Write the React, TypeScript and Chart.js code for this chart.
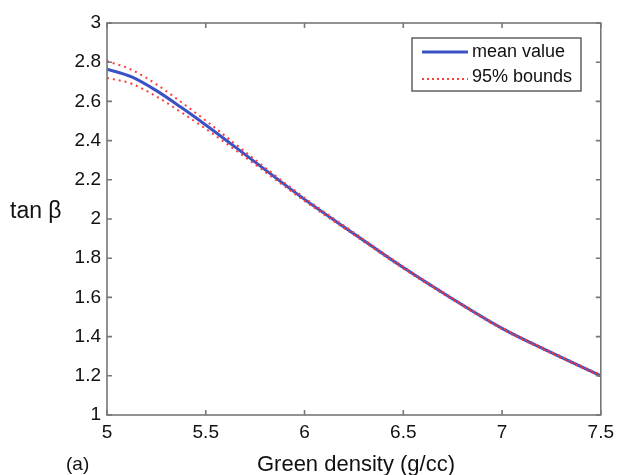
import React, { useEffect, useRef } from "react";
import { Chart, registerables } from "chart.js";

Chart.register(...registerables);

const densityX = [5, 5.125, 5.25, 5.375, 5.5, 5.75, 6, 6.25, 6.5, 6.75, 7, 7.25, 7.5];
const meanValue = [2.765, 2.725, 2.655, 2.57, 2.48, 2.29, 2.1, 1.925, 1.752, 1.592, 1.442, 1.318, 1.2];
const upperBound = [2.806, 2.761, 2.687, 2.597, 2.502, 2.302, 2.108, 1.931, 1.757, 1.596, 1.446, 1.322, 1.204];
const lowerBound = [2.72, 2.69, 2.625, 2.545, 2.46, 2.278, 2.092, 1.919, 1.747, 1.588, 1.438, 1.314, 1.196];
const xTicks = [5, 5.5, 6, 6.5, 7, 7.5];
const yTicks = [1, 1.2, 1.4, 1.6, 1.8, 2, 2.2, 2.4, 2.6, 2.8, 3];

const FONT = "Arial, 'Liberation Sans', Helvetica, sans-serif";
const BLUE = "rgb(58,82,196)";
const RED = "rgb(255,60,60)";
const AXIS = "#777777";

const pts = (ys: number[]) => densityX.map((x, i) => ({ x, y: ys[i] }));

const decorPlugin = {
  id: "decor",
  afterDraw(chart: any) {
    const { ctx, chartArea: a, scales } = chart;
    const xs = scales.x;
    const ys = scales.y;
    ctx.save();
    // frame
    ctx.strokeStyle = AXIS;
    ctx.lineWidth = 1.6;
    ctx.strokeRect(a.left, a.top, a.right - a.left, a.bottom - a.top);
    // inward ticks
    const tl = 5;
    ctx.beginPath();
    xTicks.forEach((v) => {
      const px = xs.getPixelForValue(v);
      ctx.moveTo(px, a.bottom);
      ctx.lineTo(px, a.bottom - tl);
      ctx.moveTo(px, a.top);
      ctx.lineTo(px, a.top + tl);
    });
    yTicks.forEach((v) => {
      const py = ys.getPixelForValue(v);
      ctx.moveTo(a.left, py);
      ctx.lineTo(a.left + tl, py);
      ctx.moveTo(a.right, py);
      ctx.lineTo(a.right - tl, py);
    });
    ctx.stroke();

    // legend
    const lx = 412, ly = 38, lw = 169, lh = 53;
    ctx.fillStyle = "#ffffff";
    ctx.fillRect(lx, ly, lw, lh);
    ctx.strokeStyle = "#555555";
    ctx.lineWidth = 1.4;
    ctx.strokeRect(lx, ly, lw, lh);
    ctx.strokeStyle = BLUE;
    ctx.lineWidth = 3;
    ctx.beginPath();
    ctx.moveTo(422, 52);
    ctx.lineTo(468, 52);
    ctx.stroke();
    ctx.strokeStyle = RED;
    ctx.lineWidth = 2;
    ctx.setLineDash([2, 3]);
    ctx.beginPath();
    ctx.moveTo(422, 79);
    ctx.lineTo(468, 79);
    ctx.stroke();
    ctx.setLineDash([]);
    ctx.fillStyle = "#111111";
    ctx.font = `18px ${FONT}`;
    ctx.textBaseline = "middle";
    ctx.textAlign = "left";
    ctx.fillText("mean value", 472, 52);
    ctx.fillText("95% bounds", 472, 77);

    // axis titles
    ctx.font = `23px ${FONT}`;
    ctx.textAlign = "left";
    ctx.fillText("tan \u03b2", 10, 212);
    ctx.font = `22px ${FONT}`;
    ctx.textAlign = "center";
    ctx.fillText("Green density (g/cc)", 356, 465);
    ctx.font = `19px ${FONT}`;
    ctx.textAlign = "left";
    ctx.fillText("(a)", 66, 465);
    ctx.restore();
  },
};

export default function App() {
  const ref = useRef<HTMLCanvasElement | null>(null);
  useEffect(() => {
    if (!ref.current) return;
    const chart = new Chart(ref.current, {
      type: "line",
      data: {
        datasets: [
          {
            label: "mean value",
            data: pts(meanValue),
            borderColor: BLUE,
            borderWidth: 3,
            pointRadius: 0,
            cubicInterpolationMode: "monotone",
            order: 2,
          },
          {
            label: "95% bounds",
            data: pts(upperBound),
            borderColor: RED,
            borderWidth: 2,
            borderDash: [2, 4],
            pointRadius: 0,
            cubicInterpolationMode: "monotone",
            order: 1,
          },
          {
            label: "95% bounds lower",
            data: pts(lowerBound),
            borderColor: RED,
            borderWidth: 2,
            borderDash: [2, 4],
            pointRadius: 0,
            cubicInterpolationMode: "monotone",
            order: 1,
          },
        ],
      },
      options: {
        animation: false,
        responsive: false,
        maintainAspectRatio: false,
        layout: { padding: { top: 23, right: 15, left: 0, bottom: 0 } },
        plugins: { legend: { display: false }, tooltip: { enabled: false } },
        scales: {
          x: {
            type: "linear",
            min: 5,
            max: 7.5,
            afterBuildTicks: (s: any) => {
              s.ticks = xTicks.map((v) => ({ value: v }));
            },
            afterFit: (s: any) => {
              s.height = 60;
            },
            grid: { display: false, drawTicks: false },
            border: { display: false },
            ticks: {
              color: "#111111",
              font: { size: 19, family: FONT },
              padding: 6,
              maxRotation: 0,
              callback: (v: any) => String(v),
            },
          },
          y: {
            type: "linear",
            min: 1,
            max: 3,
            afterBuildTicks: (s: any) => {
              s.ticks = yTicks.map((v) => ({ value: v }));
            },
            afterFit: (s: any) => {
              s.width = 107;
            },
            grid: { display: false, drawTicks: false },
            border: { display: false },
            ticks: {
              color: "#111111",
              font: { size: 19, family: FONT },
              padding: 6,
              callback: (v: any) => String(Math.round(v * 10) / 10),
            },
          },
        },
      },
      plugins: [decorPlugin],
    } as any);
    return () => chart.destroy();
  }, []);
  return (
    <div style={{ position: "fixed", left: 0, top: 0, width: 620, height: 475, background: "#fff" }}>
      <canvas ref={ref} width={620} height={475} style={{ display: "block", width: 620, height: 475 }} />
    </div>
  );
}
